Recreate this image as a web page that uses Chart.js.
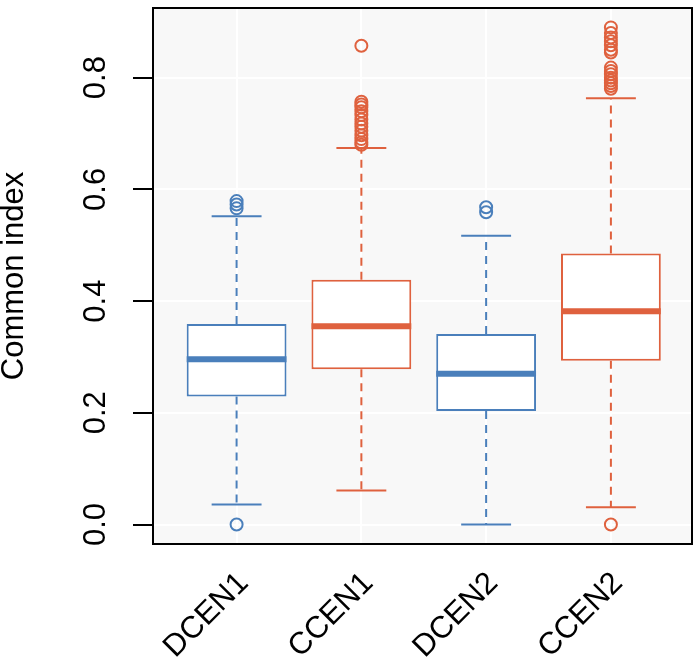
<!DOCTYPE html>
<html><head><meta charset="utf-8">
<script src="https://cdn.jsdelivr.net/npm/chart.js@4.4.0/dist/chart.umd.min.js"></script>
<style>html,body{margin:0;padding:0;background:#fff}#wrap{width:700px;height:661px;position:relative}</style>
</head><body><div id="wrap"><canvas id="c"></canvas></div>
<script>
// ---- data ----
const categories = ['DCEN1', 'CCEN1', 'DCEN2', 'CCEN2'];
const q1 = [0.229, 0.278, 0.203, 0.293];
const median = [0.296, 0.355, 0.270, 0.382];
const q3 = [0.359, 0.438, 0.341, 0.485];
const whiskerLow = [0.036, 0.061, 0.000, 0.031];
const whiskerHigh = [0.552, 0.674, 0.517, 0.763];
const outliersDCEN1 = [0.000, 0.566, 0.573, 0.579];
const outliersCCEN1 = [0.680, 0.684, 0.690, 0.697, 0.705, 0.712, 0.718, 0.725, 0.733, 0.740, 0.747, 0.752, 0.757, 0.857];
const outliersDCEN2 = [0.559, 0.568];
const outliersCCEN2 = [0.000, 0.780, 0.785, 0.790, 0.795, 0.800, 0.806, 0.812, 0.818, 0.845, 0.850, 0.858, 0.865, 0.872, 0.880, 0.890];
const outliers = [outliersDCEN1, outliersCCEN1, outliersDCEN2, outliersCCEN2];
const yTicks = [0.0, 0.2, 0.4, 0.6, 0.8];

// ---- styles ----
const BLUE = '#4a7fbb', ORANGE = '#df613e';
const colorOf = i => (i % 2 === 0 ? BLUE : ORANGE);
const FONT = "'Liberation Sans', Arial, Helvetica, sans-serif";
const FONTSIZE = 31;
const BOXHALF = 0.4, STAPLEHALF = 0.2;

const datasets = [];
datasets.push({
  type: 'bar',
  data: categories.map((c, i) => ({x: i + 1, y: [q1[i], q3[i]]})),
  backgroundColor: '#ffffff',
  borderColor: categories.map((c, i) => colorOf(i)),
  borderWidth: 2,
  borderSkipped: false,
  barPercentage: 1,
  categoryPercentage: 0.8,
  order: 5
});
categories.forEach((c, i) => {
  const x = i + 1;
  datasets.push({
    type: 'line',
    data: [{x, y: q3[i]}, {x, y: whiskerHigh[i]}, {x, y: null}, {x, y: q1[i]}, {x, y: whiskerLow[i]}],
    borderColor: colorOf(i), borderWidth: 2, borderDash: [8, 6], pointRadius: 0, fill: false, order: 6
  });
  datasets.push({
    type: 'line',
    data: [{x: x - STAPLEHALF, y: whiskerHigh[i]}, {x: x + STAPLEHALF, y: whiskerHigh[i]}, {x, y: null},
           {x: x - STAPLEHALF, y: whiskerLow[i]}, {x: x + STAPLEHALF, y: whiskerLow[i]}],
    borderColor: colorOf(i), borderWidth: 2, pointRadius: 0, fill: false, order: 4
  });
  datasets.push({
    type: 'line',
    data: [{x: x - BOXHALF, y: median[i]}, {x: x + BOXHALF, y: median[i]}],
    borderColor: colorOf(i), borderWidth: 6, borderCapStyle: 'butt', pointRadius: 0, fill: false, order: 2
  });
  datasets.push({
    type: 'scatter',
    data: outliers[i].map(v => ({x, y: v})),
    borderColor: colorOf(i), backgroundColor: 'rgba(0,0,0,0)',
    pointRadius: 6, pointBorderWidth: 2, borderWidth: 2, order: 1
  });
});

const framePlugin = {
  id: 'frame',
  beforeDraw(chart) {
    const {ctx, chartArea: a} = chart;
    ctx.save(); ctx.fillStyle = '#f8f8f8';
    ctx.fillRect(a.left, a.top, a.right - a.left, a.bottom - a.top); ctx.restore();
  },
  afterDraw(chart) {
    const {ctx, chartArea: a} = chart;
    ctx.save(); ctx.strokeStyle = '#000'; ctx.lineWidth = 2;
    ctx.strokeRect(a.left, a.top, a.right - a.left, a.bottom - a.top); ctx.restore();
  }
};

new Chart(document.getElementById('c'), {
  type: 'bar',
  data: {datasets},
  plugins: [framePlugin],
  options: {
    responsive: true, maintainAspectRatio: false, animation: false, events: [],
    layout: {padding: {top: 3, right: 6, left: 0, bottom: 0}},
    plugins: {legend: {display: false}, tooltip: {enabled: false}},
    scales: {
      x: {
        type: 'linear', min: 0.33, max: 4.65, offset: false,
        afterBuildTicks: s => { s.ticks = categories.map((c, i) => ({value: i + 1})); },
        afterFit: s => { s.height = 117; s.paddingLeft = 0; s.paddingRight = 0; },
        ticks: {
          autoSkip: false, minRotation: 45, maxRotation: 45, padding: 21, labelOffset: 7,
          color: '#000', font: {family: FONT, size: FONTSIZE},
          callback: v => categories[Math.round(v) - 1]
        },
        grid: {color: '#ffffff', lineWidth: 2, drawTicks: false, offset: false},
        border: {display: false}
      },
      y: {
        type: 'linear', min: -0.0349, max: 0.9247,
        afterBuildTicks: s => { s.ticks = yTicks.map(v => ({value: v})); },
        afterFit: s => { s.width = 153; s.paddingTop = 0; s.paddingBottom = 0; },
        ticks: {
          minRotation: 90, maxRotation: 90, crossAlign: 'center', padding: 15,
          color: '#000', font: {family: FONT, size: FONTSIZE},
          callback: v => Number(v).toFixed(1)
        },
        grid: {color: '#ffffff', lineWidth: 2, tickColor: '#000', tickLength: 20, tickWidth: 2},
        border: {display: false},
        title: {display: true, text: 'Common index', color: '#000', font: {family: FONT, size: FONTSIZE}, padding: {top: -4, bottom: 0}}
      }
    }
  }
});
</script></body></html>
